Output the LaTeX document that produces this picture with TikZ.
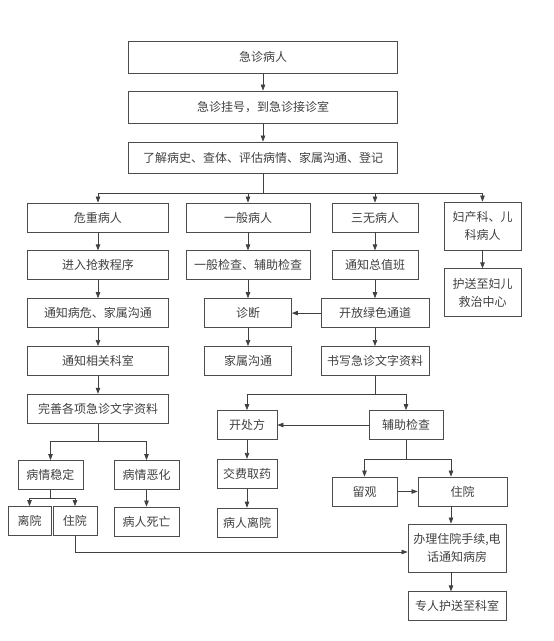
\documentclass[tikz,border=0pt]{standalone}
\usepackage{fontspec}
\newfontfamily\cjk{Noto Sans CJK SC}
\usetikzlibrary{positioning, arrows.meta}

\begin{document}
\begin{tikzpicture}[
    x=1pt, y=-1pt,
    node distance=18pt,
    box/.style={rectangle, draw=black!70, line width=0.8pt, minimum width=#1, minimum height=29pt, inner sep=0pt, align=center, text=black!75, font=\cjk\fontsize{12}{18}\selectfont},
    box/.default=60pt,
    flow/.style={-{Triangle[length=6pt, width=4.5pt]}, draw=black!75, line width=0.7pt},
    link/.style={draw=black!75, line width=0.7pt}
]
\useasboundingbox (0,0) rectangle (554,641);

\node[box=269pt, minimum height=32pt] (arrive) at (263,57) {急诊病人};
\node[box=269pt, minimum height=32pt] (register) at (263,107) {急诊挂号，到急诊接诊室};
\node[box=269pt, minimum height=31pt] (assess) at (263,157.5) {了解病史、查体、评估病情、家属沟通、登记};

\node[box=141pt] (crit) at (98,217.5) {危重病人};
\node[box=141pt, below=of crit] (rescue) {进入抢救程序};
\node[box=141pt, below=of rescue] (notify) {通知病危、家属沟通};
\node[box=141pt, below=of notify] (dept) {通知相关科室};
\node[box=141pt, below=of dept] (docs) {完善各项急诊文字资料};

\node[box=124pt] (gen) at (248,217.5) {一般病人};
\node[box=124pt, below=of gen] (genchk) {一般检查、辅助检查};
\node[box=87pt, below=of genchk] (diag) {诊断};
\node[box=87pt, below=of diag] (family) {家属沟通};

\node[box=86pt] (unknown) at (375,217.5) {三无病人};
\node[box=86pt, below=of unknown] (duty) {通知总值班};
\node[box=108pt, below=of duty] (green) {开放绿色通道};
\node[box=108pt, below=of green] (write) {书写急诊文字资料};

\node[box=77pt, minimum height=48pt] (obgyn) at (482.5,226) {妇产科、儿\\科病人};
\node[box=77pt, minimum height=48pt, below=of obgyn] (womenchild) {护送至妇儿\\救治中心};

\node[box=65pt] (stable) at (50.5,475) {病情稳定};
\node[box=65pt] (worse) at (146.5,475) {病情恶化};
\node[box=43pt] (disch) at (29.5,521) {离院};
\node[box=44pt] (hosp) at (75,521) {住院};
\node[box=65pt] (death) at (146.5,521.5) {病人死亡};

\node[box=60pt] (rx) at (247,425) {开处方};
\node[box=60pt, below=19pt of rx] (pay) {交费取药};
\node[box=60pt, below=19pt of pay] (leave) {病人离院};

\node[box=74pt] (aux) at (406,425) {辅助检查};
\node[box=65pt] (obs) at (364.5,491.5) {留观};
\node[box=89pt] (admit) at (462.5,491.5) {住院};
\node[box=98pt, minimum height=48pt] (proc) at (457,548) {办理住院手续,电\\话通知病房};
\node[box=98pt, below=19pt of proc] (escort) {专人护送至科室};

\foreach \a/\b in {arrive/register, register/assess, crit/rescue, rescue/notify, notify/dept, dept/docs, gen/genchk, genchk/diag, diag/family, unknown/duty, duty/green, green/write, obgyn/womenchild, rx/pay, pay/leave, worse/death, aux/rx, green/diag, obs/admit}
    \draw[flow] (\a) -- (\b);

\draw[link] (assess.south) -- ++(0,20) coordinate (split);
\foreach \n in {crit, gen, unknown, obgyn}
    \draw[flow] (split) -| (\n.north);

\draw[link] (docs.south) -- ++(0,18) coordinate (docsplit);
\foreach \n in {stable, worse}
    \draw[flow] (docsplit) -| (\n.north);

\draw[link] (stable.south) -- ++(0,8) coordinate (stsplit);
\foreach \n in {disch, hosp}
    \draw[flow] (stsplit) -| (\n.north);

\draw[flow] (hosp.south) |- ([yshift=-4pt]proc.west);

\draw[link] (write.south) -- ++(0,19) coordinate (wrsplit);
\foreach \n in {rx, aux}
    \draw[flow] (wrsplit) -| (\n.north);

\coordinate (admcol) at (451,459);
\draw[link] (aux.south) -- (aux.south |- admcol);
\draw[flow] (admcol) -| (obs.north);
\draw[flow] (admcol) -- (admcol |- admit.north);
\draw[flow] (admcol |- admit.south) -- (admcol |- proc.north);
\draw[flow] (admcol |- proc.south) -- (admcol |- escort.north);

\end{tikzpicture}
\end{document}
